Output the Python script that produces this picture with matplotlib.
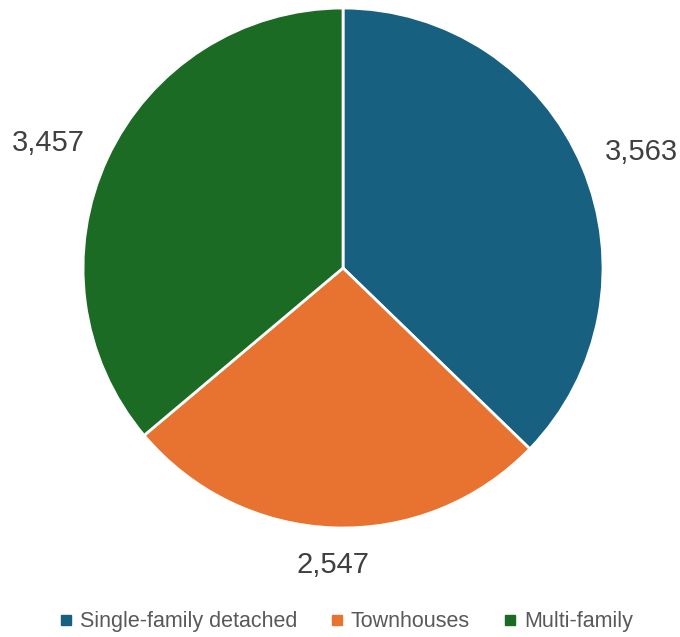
import matplotlib
matplotlib.use("Agg")
import matplotlib.pyplot as plt
import numpy as np
from matplotlib.lines import Line2D

categories = ["Single-family detached", "Townhouses", "Multi-family"]
values = [3563, 2547, 3457]
colors = ["#17607f", "#e87331", "#1b6b25"]

plt.rcParams['font.family'] = ['Liberation Sans', 'DejaVu Sans']

fig = plt.figure(figsize=(6.8, 6.37), dpi=100)
ax = fig.add_axes([0.1221, 0.1711, 0.7647, 0.8163])
wedges, _ = ax.pie(values, colors=colors, startangle=90, counterclock=False,
                   radius=1.0,
                   wedgeprops=dict(edgecolor="white", linewidth=2.0))
ax.set_xlim(-1, 1)
ax.set_ylim(-1, 1)
ax.set_aspect('auto')

for w, v in zip(wedges, values):
    ang = np.deg2rad((w.theta1 + w.theta2) / 2)
    x, y = np.cos(ang), np.sin(ang)
    d = 1.095
    dy = 0.02
    if abs(x) < 0.3:
        ha = 'center'
        va = 'top' if y < 0 else 'bottom'
        d = 1.09
        dy = 0
    else:
        ha = 'left' if x > 0 else 'right'
        va = 'center'
    ax.text(d * x, d * y + dy, f"{v:,}", ha=ha, va=va,
            fontsize=21, color="#404040", clip_on=False)

handles = [Line2D([0], [0], marker='s', linestyle='none', markersize=7,
                  markerfacecolor=c, markeredgecolor=c) for c in colors]
fig.legend(handles, categories, loc='center', bbox_to_anchor=(0.508, 0.024),
           ncol=3, frameon=False, fontsize=15.5, handlelength=0.7,
           handletextpad=0.3, columnspacing=1.5, labelcolor="#595959")

fig.savefig("out.png", dpi=100)
